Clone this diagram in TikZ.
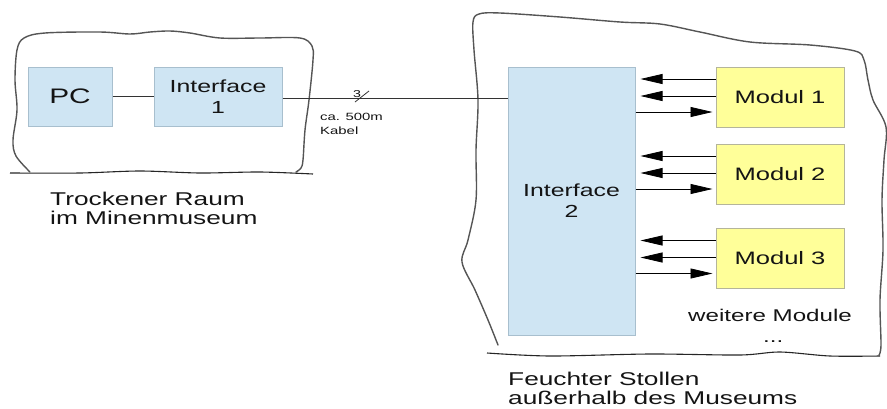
\documentclass[tikz,border=0pt]{standalone}
\usepackage{fontspec}
\setmainfont[FakeStretch=1.42]{Liberation Sans}
\usetikzlibrary{arrows.meta}
\definecolor{boxblue}{HTML}{CFE5F3}
\definecolor{boxblueline}{HTML}{A8BFCE}
\definecolor{boxyellow}{HTML}{FFFF99}
\definecolor{boxyellowline}{HTML}{B5B59A}
\definecolor{txt}{HTML}{141414}
\definecolor{cloud}{HTML}{555555}
\tikzset{
  bluebox/.style={draw=boxblueline, fill=boxblue, line width=1pt, inner sep=0pt, align=center, text=txt},
  modbox/.style={draw=boxyellowline, fill=boxyellow, line width=1pt, inner sep=0pt, minimum width=128pt, minimum height=60pt, text=txt, font=\fontsize{18}{20}\selectfont},
  lbl/.style={inner sep=0pt, anchor=base west, text=txt},
  cloudline/.style={draw=cloud, line width=1.4pt, line cap=round, line join=round},
  baseline/.style={draw=black!85, line width=1.1pt},
  arr/.style={draw=black, line width=0.8pt, -{Triangle[length=22pt,width=10pt]}},
  wire/.style={draw=black!80, line width=0.8pt}
}
\begin{document}
\begin{tikzpicture}[x=1pt,y=-1pt]
\useasboundingbox (0,0) rectangle (887,408);
% left room
\draw[cloudline] plot[smooth, tension=0.55] coordinates {(30,172) (16,156) (13,140) (17,110) (15,80) (17,50) (24,38) (45,33) (100,32) (130,34) (150,32) (170,31) (190,33) (220,38) (260,38) (300,38) (312,46) (313,60) (309,100) (305,130) (303,160) (301,168) (296,172)};
\draw[baseline] plot[smooth, tension=0.5] coordinates {(10,173) (80,173) (140,171) (200,173) (260,172) (313,174)};
% right room
\draw[cloudline] plot[smooth, tension=0.55] coordinates {(498,345) (488,320) (475,290) (462,262) (468,240) (476,200) (476,150) (478,100) (474,50) (473,22) (479,14) (500,13) (560,17) (620,22) (660,24) (700,32) (750,42) (810,45) (855,51) (864,60) (868,80) (873,100) (886,127) (884,160) (882,200) (883,250) (880,300) (881,345) (879,355)};
\draw[baseline] plot[smooth, tension=0.5] coordinates {(487,353) (550,356) (650,354) (740,355) (780,352) (830,356) (880,356)};
% boxes
\node[bluebox, minimum width=84pt, minimum height=59pt, font=\fontsize{21}{24}\selectfont] (pc) at (70,96.5) {PC};
\node[bluebox, minimum width=128pt, minimum height=59pt, font=\fontsize{17.5}{21}\selectfont] (if1) at (218,96.5) {Interface\\1};
\node[bluebox, minimum width=127pt, minimum height=268pt, font=\fontsize{17.5}{21}\selectfont] (if2) at (571.5,201) {Interface\\2};
\node[modbox] (m1) at (780,97) {Modul 1};
\node[modbox] (m2) at (780,174) {Modul 2};
\node[modbox] (m3) at (780,258.5) {Modul 3};
% wires
\draw[wire] (pc.east) -- (if1.west);
\draw[wire] ([yshift=-1.5pt]if1.east) -- ([yshift=-1.5pt]if1.east -| if2.west);
\coordinate (s1) at (355,102);
\coordinate (s2) at (369,91);
\draw[wire] (s1) -- (s2);
% arrows
\foreach \m in {m1,m2,m3}{
  \draw[arr] ([yshift=18pt]\m.west) -- ([yshift=18pt,xshift=5pt]\m.west -| if2.east);
  \draw[arr] ([yshift=1pt]\m.west) -- ([yshift=1pt,xshift=5pt]\m.west -| if2.east);
  \draw[arr] ([yshift=-15pt]\m.west -| if2.east) -- ([yshift=-15pt,xshift=-3pt]\m.west);
}
% labels
\node[lbl, font=\fontsize{10}{12}\selectfont] (n3) at (353,97) {3};
\node[lbl, font=\fontsize{10.5}{12}\selectfont] (ca) at (320,120) {ca. 500m};
\node[lbl, font=\fontsize{10.5}{12}\selectfont] (kb) at (320,134) {Kabel};
\node[lbl, font=\fontsize{18.5}{20}\selectfont] (t1) at (50,205) {Trockener Raum};
\node[lbl, font=\fontsize{18.5}{20}\selectfont] (t2) at (50,224) {im Minenmuseum};
\node[lbl, font=\fontsize{17}{20}\selectfont] (wm) at (688,321) {weitere Module};
\node[lbl, font=\fontsize{17}{20}\selectfont] (dots) at (763,342) {...};
\node[lbl, font=\fontsize{18.5}{20}\selectfont] (f1) at (508,385) {Feuchter Stollen};
\node[lbl, font=\fontsize{18.5}{20}\selectfont] (f2) at (508,404) {außerhalb des Museums};
\end{tikzpicture}
\end{document}
